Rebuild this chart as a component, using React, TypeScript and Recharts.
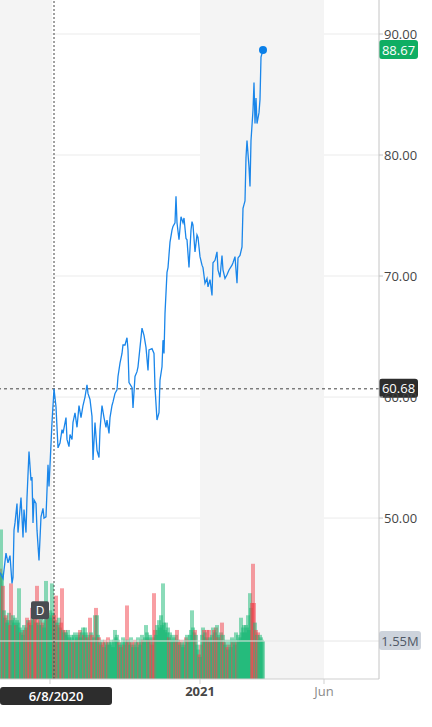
import React from 'react';
import {
  ComposedChart,
  Line,
  Bar,
  XAxis,
  YAxis,
  CartesianGrid,
  ReferenceArea,
  ReferenceLine,
  ReferenceDot,
} from 'recharts';

// trading-day index (from the first day on screen) and closing price
const priceDays = [
  0, 3, 6, 8, 10, 12, 13, 14, 15, 17, 18, 21, 23, 24, 26, 27, 29, 31, 32, 33, 34, 36, 37, 39, 41, 43, 44, 46, 48, 49,
  52, 53, 54, 56, 58, 60, 62, 63, 66, 67, 69, 70, 72, 73, 75, 77, 79, 81, 83, 85, 87, 88, 90, 92, 93, 95, 97, 99, 100,
  102, 104, 106, 107, 109, 110, 112, 113, 115, 117, 118, 120, 122, 123, 125, 127, 128, 129, 132, 133, 135, 137, 138,
  140, 142, 144, 146, 148, 149, 152, 154, 155, 157, 159, 160, 162, 163, 164, 165, 167, 168, 170, 172, 173, 175, 176,
  177, 179, 181, 183, 184, 186, 187, 189, 191, 192, 193, 195, 197, 198, 200, 202, 203, 205, 207, 208, 210, 212, 213,
  215, 217, 218, 220, 222, 223, 225, 227, 229, 232, 233, 235, 237, 238, 240, 242, 243, 244, 245, 246, 247, 249, 250,
  251, 253, 254, 255, 256, 257, 259, 260, 261, 263,
];
const priceCloses = [
  45.5, 45.0, 47.1, 46.3, 46.9, 44.6, 45.1, 49.0, 49.6, 51.2, 48.8, 51.7, 48.4, 50.7, 48.8, 51.7, 55.5, 53.1, 53.4, 49.6,
  51.5, 51.2, 49.0, 46.5, 50.1, 50.8, 50.0, 50.1, 54.4, 52.6, 57.9, 59.3, 60.68, 59.2, 55.8, 56.2, 57.3, 57.0, 58.3,
  56.5, 55.9, 56.9, 56.5, 57.9, 58.7, 57.5, 59.3, 58.3, 59.3, 60.0, 61.0, 60.3, 59.8, 58.4, 54.8, 57.9, 55.6, 55.0,
  57.3, 59.3, 58.3, 57.5, 58.1, 57.0, 58.3, 59.3, 59.6, 60.3, 60.6, 61.7, 62.8, 63.6, 64.3, 64.3, 64.9, 63.9, 61.2,
  60.8, 59.1, 61.7, 62.1, 62.5, 64.1, 65.7, 65.1, 64.1, 62.2, 63.9, 64.0, 63.6, 60.8, 58.1, 58.7, 61.4, 62.5, 64.7,
  63.6, 66.9, 70.3, 70.7, 72.8, 73.8, 74.1, 74.4, 76.6, 74.4, 73.0, 74.9, 74.4, 74.8, 73.1, 73.0, 70.7, 73.8, 74.5,
  74.2, 72.0, 73.4, 73.2, 71.6, 70.9, 70.7, 69.4, 69.8, 69.1, 69.7, 68.4, 71.1, 71.3, 72.0, 70.5, 69.9, 71.7, 70.5,
  69.8, 70.1, 70.5, 70.9, 71.1, 71.6, 69.4, 71.5, 71.7, 72.4, 75.6, 75.9, 76.2, 79.8, 81.2, 79.0, 77.4, 81.2, 83.7,
  86.0, 82.6, 84.7, 82.6, 83.5, 84.6, 88.1, 88.67,
];

// daily volume in millions, one per trading day
const volumes = [
  4.5, 6.1, 4.3, 3.8, 2.8, 2.5, 2.6, 2.3, 2.4, 2.7, 2.2, 3.9, 2.4, 2.6, 2.3, 2.5, 2.2, 2.4, 2.3, 3.7,
  2.1, 1.9, 2.0, 1.8, 2.2, 2.0, 2.1, 2.5, 2.4, 2.3, 2.4, 2.2, 2.9, 2.5, 2.4, 2.6, 2.3, 3.8, 2.3, 2.2,
  2.4, 2.5, 2.2, 2.3, 2.1, 2.4, 4.0, 2.9, 2.7, 2.6, 2.8, 2.5, 3.9, 2.7, 2.6, 2.4, 3.4, 2.3, 2.2, 2.5,
  2.1, 2.3, 3.7, 2.0, 1.9, 2.0, 1.9, 1.8, 2.0, 1.7, 1.6, 1.8, 1.7, 1.5, 1.8, 1.9, 1.6, 1.7, 1.8, 1.9,
  2.0, 1.7, 1.9, 2.1, 1.8, 2.1, 1.9, 1.7, 1.8, 1.6, 2.5, 1.9, 1.8, 1.5, 1.7, 2.6, 2.9, 2.6, 1.8, 1.7,
  1.5, 1.4, 1.6, 1.5, 1.3, 1.6, 1.5, 1.4, 1.7, 1.5, 1.4, 1.6, 1.5, 1.3, 1.6, 2.0, 1.7, 1.8, 1.6, 1.5,
  1.4, 1.3, 1.5, 1.7, 1.4, 1.6, 1.5, 3.0, 1.6, 1.5, 1.4, 1.7, 1.5, 1.3, 1.4, 1.6, 1.5, 1.3, 1.7, 1.5,
  1.4, 1.6, 1.8, 1.6, 1.5, 1.7, 2.2, 1.9, 1.6, 1.7, 1.8, 1.6, 1.4, 1.7, 3.5, 2.0, 1.8, 2.2, 2.0, 2.4,
  2.1, 2.6, 2.2, 3.9, 2.3, 2.0, 2.3, 1.9, 2.1, 1.7, 1.9, 1.5, 1.8, 1.6, 1.7, 1.5, 1.8, 2.0, 1.6, 1.5,
  1.4, 1.6, 1.5, 1.3, 1.4, 1.6, 1.7, 1.8, 1.5, 1.6, 1.8, 2.0, 2.8, 2.1, 1.9, 2.0, 1.8, 1.4, 1.2, 1.0,
  0.9, 1.4, 1.8, 2.1, 2.0, 1.9, 1.7, 2.0, 1.6, 2.0, 1.7, 1.5, 1.8, 2.1, 2.0, 1.9, 2.1, 2.2, 1.7, 1.8,
  1.6, 1.9, 2.3, 1.8, 1.5, 1.4, 1.6, 1.3, 1.2, 1.4, 1.6, 1.3, 1.7, 1.5, 1.6, 1.4, 1.9, 1.5, 1.8, 1.6,
  1.7, 2.5, 1.9, 2.1, 2.2, 1.9, 2.2, 2.1, 2.6, 2.0, 3.5, 2.9, 3.1, 4.7, 3.1, 2.3, 2.0, 1.8, 1.9, 1.6,
  1.8, 1.7, 1.6, 1.55,
];
// g = up day, r = down day
const volumeSide = [
  'rggrggrgggrrggggrggg', 'grgggrgrgrrgrggrrrgg', 'rggrggggrgggggrgrgrg', 'grrggrggggrggrggrggg',
  'rgggrggrggrgrrggrggr', 'grgrgrggrggggggggggr', 'grggrggrgrggrggrgggr', 'gggrggggrggrrgrrgggg',
  'gggggggggrgrgggrgrgr', 'grggggrggrgggggrgggr', 'grggrggrgrgrggrgrgrg', 'ggrgrggrgrgggrgggrgg',
  'ggggggggggggrrrgrgrg', 'gggg',
].join('');

const priceTicks = [50, 60, 70, 80, 90];
const xTicks = [50, 200, 324];
const xTickLabels = ['', '2021', 'Jun']; // the Jun 2020 label sits under the crosshair date tag
const shadedSpans = [[0, 52], [200, 324]];

const crossDay = 54;
const crossDate = '6/8/2020';
const crossPrice = 60.68;
const lastDay = 263;
const lastPrice = 88.67;
const lastVolume = 1.55;
const dividendDay = 40;
const dividendLevel = 2.8;

const FONT = "'Open Sans', sans-serif";
const BLUE = '#1a86ea';
const GREEN = '#17b874';
const RED = '#f23e48';

const closeByDay = new Map(priceDays.map((d, i) => [d, priceCloses[i]]));
const rows = volumes.map((v, day) => ({
  day,
  volume: v,
  up: volumeSide[day] === 'g',
  close: closeByDay.has(day) ? closeByDay.get(day) : null,
}));

// volume bar: wider than one day and see-through, so neighbouring days blend the way the original does
const VolumeBar = (props: any) => {
  const { x, y, width, height, payload } = props;
  if (height == null || height <= 0) return <g />;
  const cx = x + width / 2;
  return <rect x={cx - 2} y={y} width={4} height={height} fill={payload.up ? GREEN : RED} fillOpacity={0.5} />;
};

const XTick = (props: any) => {
  const { x, y, payload } = props;
  const i = xTicks.indexOf(payload.value);
  const bold = xTickLabels[i] === '2021';
  return (
    <text x={x} y={y} dy={10} textAnchor="middle" fontFamily={FONT} fontSize={13}
      fontWeight={bold ? 700 : 400} fill={bold ? '#464646' : '#8a8a8a'}>
      {xTickLabels[i]}
    </text>
  );
};

const axisTag = (text: string, fill: string, color: string, w = 39) => (props: any) => {
  const vb = props.viewBox || {};
  const x = vb.x + vb.width;
  const y = vb.y;
  return (
    <g>
      <rect x={x} y={y - 10} width={w} height={19} rx={3} fill={fill} />
      <text x={x + w / 2} y={y + 4.5} textAnchor="middle" fontFamily={FONT} fontSize={13} fill={color}>
        {text}
      </text>
    </g>
  );
};

const dateTag = (props: any) => {
  const vb = props.viewBox || {};
  const cx = vb.x + 2;
  const left = Math.max(0, cx - 56);
  const top = vb.y + vb.height + 8;
  return (
    <g>
      <rect x={left} y={top} width={112} height={18} rx={3} fill="#2d2d2d" />
      <text x={left + 56} y={top + 13.5} textAnchor="middle" fontFamily={FONT} fontSize={13} fontWeight={600} fill="#fff">
        {crossDate}
      </text>
    </g>
  );
};

const DividendMark = (props: any) => {
  const { cx, cy } = props;
  return (
    <g>
      <rect x={cx - 9} y={cy - 9} width={18} height={18} rx={2} fill="#4a4d52" />
      <text x={cx} y={cy + 4.5} textAnchor="middle" fontFamily={FONT} fontSize={12} fill="#fff">D</text>
    </g>
  );
};

const LastDot = (props: any) => {
  const { cx, cy, payload, index } = props;
  if (!payload || payload.day !== lastDay || cy == null) return <g key={index} />;
  return <circle key={index} cx={cx} cy={cy} r={4} fill="#0a7fe8" />;
};

export default function App() {
  return (
    <div style={{ position: 'absolute', left: 0, top: 0, background: '#fff' }}>
      <ComposedChart width={432} height={727} data={rows} margin={{ top: 0, right: 0, bottom: 0, left: 0 }}>
        <XAxis dataKey="day" type="number" domain={[0, 379]} ticks={xTicks} tick={<XTick />}
          axisLine={{ stroke: '#cfcfcf' }} tickLine={{ stroke: '#cfcfcf' }} tickSize={5} height={48}
          interval={0} allowDataOverflow />
        <YAxis yAxisId="price" orientation="right" domain={[36.7, 92.81]} ticks={priceTicks} width={53}
          tickFormatter={(v: number) => v.toFixed(2)} tick={{ fill: '#464646', fontSize: 13, fontFamily: FONT }}
          axisLine={{ stroke: '#c4c4c4' }} tickLine={{ stroke: '#c4c4c4' }} tickSize={4} tickMargin={1}
          allowDataOverflow />
        <YAxis yAxisId="vol" hide domain={[0, 27.7]} allowDataOverflow />
        {shadedSpans.map(([a, b], i) => (
          <ReferenceArea key={i} yAxisId="price" x1={a} x2={b} fill="#f4f4f4" fillOpacity={1} stroke="none" />
        ))}
        <CartesianGrid yAxisId="price" vertical={false} stroke="#ebebeb" horizontalValues={priceTicks} />
        <ReferenceLine yAxisId="vol" y={lastVolume} stroke="#e6e6e6"
          label={axisTag(`${lastVolume}M`, '#cdd3dc', '#4f5866', 42)} />
        <Bar yAxisId="vol" dataKey="volume" shape={<VolumeBar />} isAnimationActive={false} />
        <ReferenceLine yAxisId="price" x={crossDay} stroke="#444" strokeDasharray="2 2" label={dateTag} />
        <ReferenceLine yAxisId="price" y={crossPrice} stroke="#444" strokeDasharray="3 3"
          label={axisTag(crossPrice.toFixed(2), '#2d2d2d', '#fff')} />
        <ReferenceDot yAxisId="vol" x={dividendDay} y={dividendLevel} shape={<DividendMark />} />
        <Line yAxisId="price" dataKey="close" type="linear" stroke={BLUE} strokeWidth={1.3} connectNulls
          dot={LastDot} activeDot={false} isAnimationActive={false} />
        <ReferenceLine yAxisId="price" y={lastPrice} stroke="none"
          label={axisTag(lastPrice.toFixed(2), '#0fae63', '#fff')} />
      </ComposedChart>
    </div>
  );
}
